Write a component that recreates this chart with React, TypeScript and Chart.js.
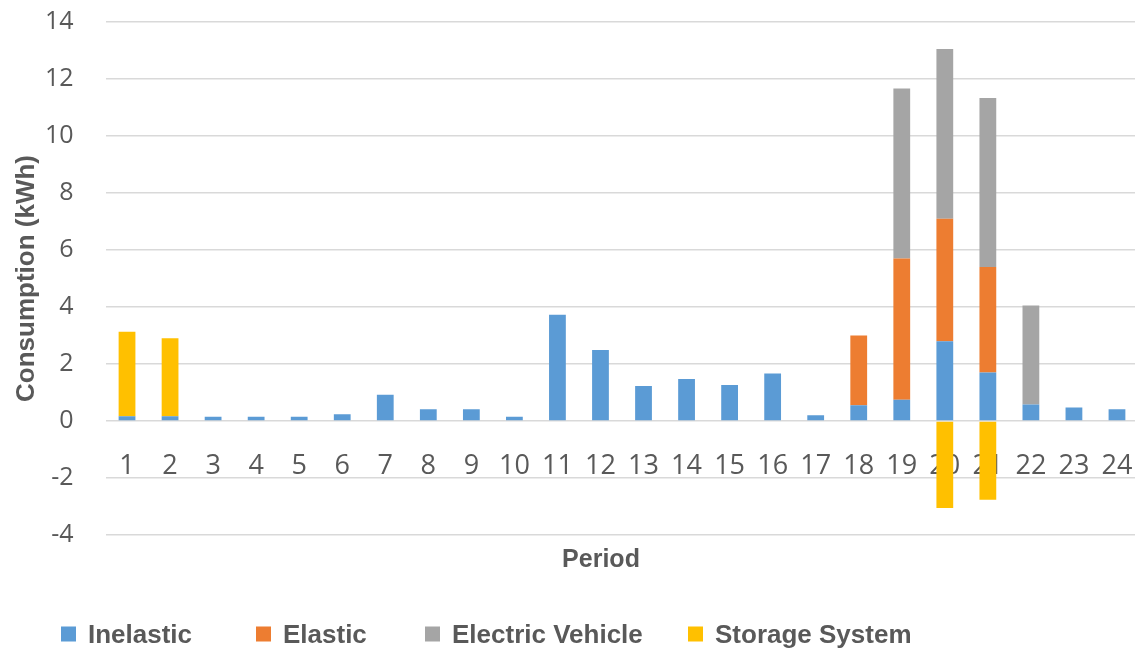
import React, { useEffect, useRef } from "react";
import { Chart, registerables } from "chart.js";

Chart.register(...registerables);

// Hourly periods of the day
const periods = [
  "1", "2", "3", "4", "5", "6", "7", "8", "9", "10", "11", "12",
  "13", "14", "15", "16", "17", "18", "19", "20", "21", "22", "23", "24",
];

// Consumption per load type (kWh)
const inelastic = [
  0.17, 0.17, 0.15, 0.15, 0.15, 0.24, 0.92, 0.41, 0.41, 0.15, 3.73, 2.49,
  1.23, 1.47, 1.26, 1.67, 0.2, 0.55, 0.75, 2.8, 1.7, 0.58, 0.47, 0.41,
];
const elastic = [
  0, 0, 0, 0, 0, 0, 0, 0, 0, 0, 0, 0,
  0, 0, 0, 0, 0, 2.45, 4.95, 4.3, 3.7, 0, 0, 0,
];
const electricVehicle = [
  0, 0, 0, 0, 0, 0, 0, 0, 0, 0, 0, 0,
  0, 0, 0, 0, 0, 0, 5.97, 5.95, 5.93, 3.47, 0, 0,
];
const storageSystem = [
  2.96, 2.73, 0, 0, 0, 0, 0, 0, 0, 0, 0, 0,
  0, 0, 0, 0, 0, 0, 0, -3.05, -2.76, 0, 0, 0,
];

const seriesNames = ["Inelastic", "Elastic", "Electric Vehicle", "Storage System"];
const seriesColors = ["#5B9BD5", "#ED7D31", "#A5A5A5", "#FFC000"];

// Y axis range and step
const yMin = -4;
const yMax = 14;
const yStep = 2;

const textColor = "#595959";
const gridColor = "#D9D9D9";
const boldFont = "'Liberation Sans', Arial, sans-serif";
const tickFont = "'Open Sans', sans-serif";

// Canvas size and plot frame
const canvasW = 1140;
const canvasH = 650;
const plotLeft = 105.5;
const plotRight = 1138.5;
const plotTop = 22;
const plotBottom = 535;
const layoutLeft = 4;

// Left offsets of the legend entries
const legendLefts = [61, 256, 425, 688];

export default function App() {
  const canvasRef = useRef<HTMLCanvasElement | null>(null);

  useEffect(() => {
    const canvas = canvasRef.current;
    if (!canvas) return;
    const seriesValues = [inelastic, elastic, electricVehicle, storageSystem];
    const chart = new Chart(canvas, {
      type: "bar",
      data: {
        labels: periods,
        datasets: seriesValues.map((values, i) => ({
          label: seriesNames[i],
          data: values,
          backgroundColor: seriesColors[i],
          borderWidth: 0,
          categoryPercentage: 0.39,
          barPercentage: 1,
        })),
      },
      options: {
        animation: false,
        responsive: false,
        maintainAspectRatio: false,
        layout: {
          autoPadding: false,
          padding: {
            left: layoutLeft,
            right: canvasW - plotRight,
            top: plotTop,
            bottom: canvasH - plotBottom,
          },
        },
        plugins: {
          legend: { display: false },
          tooltip: { enabled: false },
        },
        scales: {
          x: {
            stacked: true,
            position: { y: 0 },
            // invisible tick marks keep the period labels clear of the zero line
            grid: {
              display: true,
              color: "transparent",
              drawTicks: true,
              tickLength: 29,
              tickColor: "transparent",
            },
            border: { display: false },
            ticks: {
              color: textColor,
              padding: 0,
              maxRotation: 0,
              autoSkip: false,
              font: { family: tickFont, size: 27 },
            },
          },
          y: {
            stacked: true,
            min: yMin,
            max: yMax,
            afterFit: (scale: any) => {
              scale.width = plotLeft - layoutLeft;
            },
            ticks: {
              stepSize: yStep,
              color: textColor,
              padding: 0,
              font: { family: tickFont, size: 25 },
            },
            grid: {
              color: gridColor,
              lineWidth: 1.5,
              drawTicks: true,
              tickLength: 32,
              tickColor: "transparent",
            },
            border: { display: false },
            title: {
              display: true,
              text: "Consumption (kWh)",
              color: textColor,
              padding: { top: 7, bottom: 4 },
              font: { family: boldFont, size: 26, weight: "bold" },
            },
          },
        },
      },
    });
    return () => chart.destroy();
  }, []);

  return (
    <div style={{ position: "fixed", left: 0, top: 0, width: canvasW, height: canvasH, background: "#fff", overflow: "hidden" }}>
      <canvas ref={canvasRef} width={canvasW} height={canvasH} style={{ display: "block" }} />
      <div
        style={{
          position: "absolute",
          left: 601,
          top: 558,
          transform: "translate(-50%, -50%)",
          fontFamily: boldFont,
          fontWeight: "bold",
          fontSize: 25,
          color: textColor,
          whiteSpace: "nowrap",
        }}
      >
        Period
      </div>
      {seriesNames.map((name, i) => (
        <div
          key={name}
          style={{
            position: "absolute",
            left: legendLefts[i],
            top: 634,
            transform: "translateY(-50%)",
            display: "flex",
            alignItems: "center",
            fontFamily: boldFont,
            fontWeight: "bold",
            fontSize: 26,
            color: textColor,
            whiteSpace: "nowrap",
          }}
        >
          <span style={{ display: "inline-block", width: 15, height: 15, background: seriesColors[i], marginRight: 12 }} />
          {name}
        </div>
      ))}
    </div>
  );
}
